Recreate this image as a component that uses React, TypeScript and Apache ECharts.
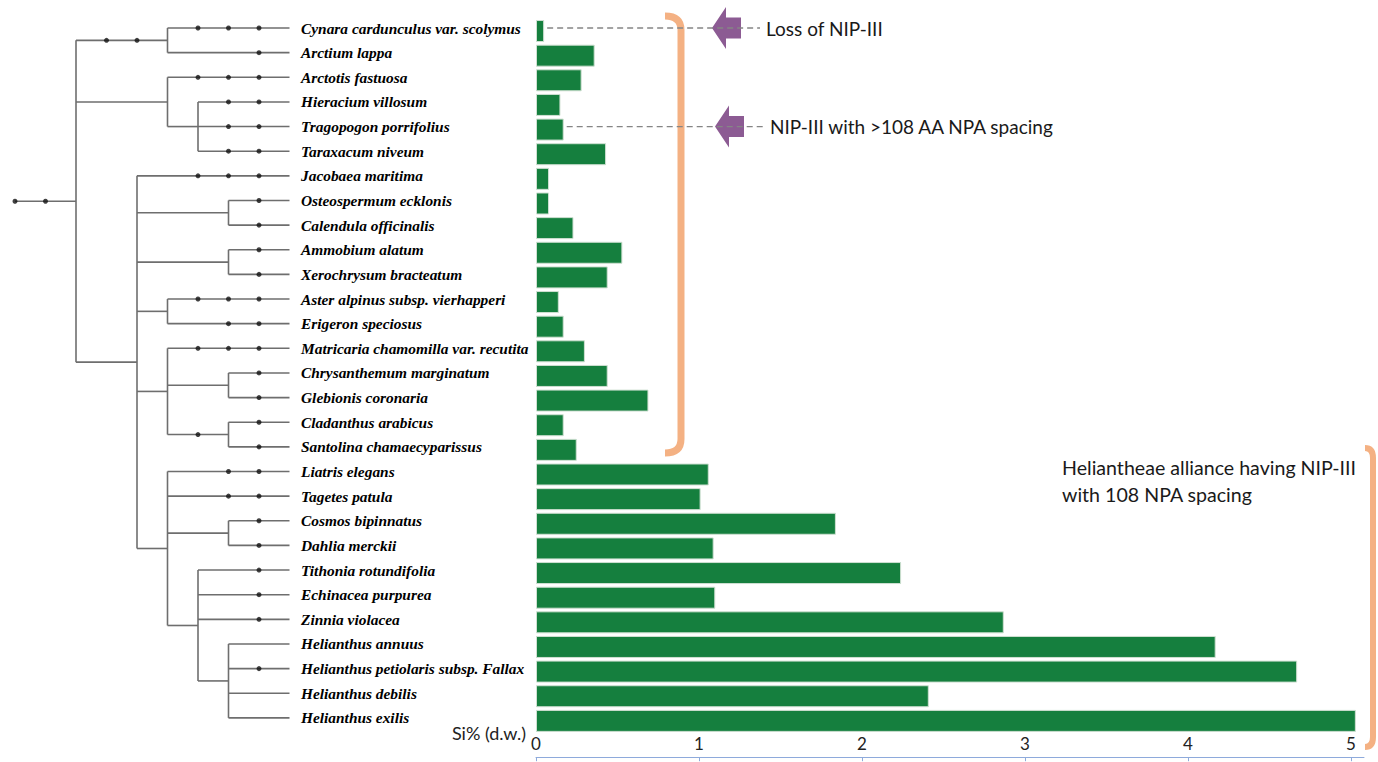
import React, { useEffect, useRef } from "react";
import * as echarts from "echarts";

const species = [
  "Cynara cardunculus var. scolymus",
  "Arctium lappa",
  "Arctotis fastuosa",
  "Hieracium villosum",
  "Tragopogon porrifolius",
  "Taraxacum niveum",
  "Jacobaea maritima",
  "Osteospermum ecklonis",
  "Calendula officinalis",
  "Ammobium alatum",
  "Xerochrysum bracteatum",
  "Aster alpinus subsp. vierhapperi",
  "Erigeron speciosus",
  "Matricaria chamomilla var. recutita",
  "Chrysanthemum marginatum",
  "Glebionis coronaria",
  "Cladanthus arabicus",
  "Santolina chamaecyparissus",
  "Liatris elegans",
  "Tagetes patula",
  "Cosmos bipinnatus",
  "Dahlia merckii",
  "Tithonia rotundifolia",
  "Echinacea purpurea",
  "Zinnia violacea",
  "Helianthus annuus",
  "Helianthus petiolaris subsp. Fallax",
  "Helianthus debilis",
  "Helianthus exilis",
];

const siPercent = [
  0.05, 0.36, 0.28, 0.15, 0.17, 0.43, 0.08, 0.08, 0.23, 0.53, 0.44, 0.14, 0.17,
  0.3, 0.44, 0.69, 0.17, 0.25, 1.06, 1.01, 1.84, 1.09, 2.24, 1.1, 2.87, 4.17,
  4.67, 2.41, 5.03,
];

const xTicks = [0, 1, 2, 3, 4, 5];

const annotations = [
  { leaf: 0, text: "Loss of NIP-III" },
  { leaf: 4, text: "NIP-III with >108 AA NPA spacing" },
];
const groupNote = "Heliantheae alliance having NIP-III\nwith 108 NPA spacing";
const axisTitle = "Si% (d.w.)";

// Tree topology: columns 0..9 (9 = tips); dots = columns of the node markers on the incoming branch
type TNode = { col: number; dots: number[]; leaf?: number; children?: TNode[] };
const Lf = (leaf: number, dots: number[]): TNode => ({ col: 9, dots, leaf });
const Nd = (col: number, dots: number[], children: TNode[]): TNode => ({ col, dots, children });

const tree: TNode = Nd(2, [0, 1], [
  Nd(5, [3, 4], [Lf(0, [6, 7, 8]), Lf(1, [8])]),
  Nd(5, [], [Lf(2, [6, 7, 8]), Nd(6, [], [Lf(3, [7, 8]), Lf(4, [7, 8]), Lf(5, [7, 8])])]),
  Nd(4, [], [
    Lf(6, [6, 7, 8]),
    Nd(7, [], [Lf(7, [8]), Lf(8, [8])]),
    Nd(7, [], [Lf(9, [8]), Lf(10, [8])]),
    Nd(5, [], [Lf(11, [6, 7, 8]), Lf(12, [7, 8])]),
    Nd(5, [], [
      Lf(13, [6, 7, 8]),
      Nd(7, [], [Lf(14, [8]), Lf(15, [8])]),
      Nd(7, [6], [Lf(16, [8]), Lf(17, [8])]),
    ]),
    Nd(5, [], [
      Lf(18, [7, 8]),
      Lf(19, [7, 8]),
      Nd(7, [], [Lf(20, [8]), Lf(21, [8])]),
      Nd(6, [], [
        Lf(22, [8]),
        Lf(23, [8]),
        Lf(24, [8]),
        Nd(7, [], [Lf(25, []), Lf(26, [8]), Lf(27, []), Lf(28, [])]),
      ]),
    ]),
  ]),
]);

function layoutTree(node: TNode, parentCol: number, segs: number[][], dots: number[][]): number {
  let y: number;
  if (node.leaf !== undefined) {
    y = node.leaf;
  } else {
    const ys = node.children!.map((c) => layoutTree(c, node.col, segs, dots));
    y = (ys[0] + ys[ys.length - 1]) / 2;
    segs.push([node.col, ys[0], node.col, ys[ys.length - 1]]);
  }
  segs.push([parentCol, y, node.col, y]);
  node.dots.forEach((c) => dots.push([c, y]));
  return y;
}

export default function App() {
  const ref = useRef<HTMLDivElement>(null);
  useEffect(() => {
    if (!ref.current) return;
    const chart = echarts.init(ref.current, null, { renderer: "svg" });
    const segs: number[][] = [];
    const dots: number[][] = [];
    layoutTree(tree, 0, segs, dots);

    echarts.graphic.registerShape(
      "bracketA",
      echarts.graphic.extendPath("M0,0 Q16,0 16,14 L16,423 Q16,437 0,437", {})
    );
    echarts.graphic.registerShape(
      "bracketB",
      echarts.graphic.extendPath("M0,0 Q8,0 8,10 L8,289 Q8,299 0,299", {})
    );

    const option: any = {
      animation: false,
      grid: [
        { left: 15, top: 15.7, width: 274.5, height: 714.5 },
        { left: 536, top: 18.7, width: 828, height: 714.5 },
      ],
      xAxis: [
        { type: "value", gridIndex: 0, min: 0, max: 9, show: false },
        {
          type: "value",
          gridIndex: 1,
          min: 0,
          max: 5.08,
          interval: 1,
          offset: 24,
          splitLine: { show: false },
          axisLine: { show: true, lineStyle: { color: "#8eaadb", width: 1 } },
          axisTick: { show: true, length: 4, customValues: xTicks, lineStyle: { color: "#8eaadb" } },
          axisLabel: {
            inside: true,
            margin: 5,
            customValues: xTicks,
            fontFamily: "Lato",
            fontSize: 17,
            color: "#222",
          },
        },
      ],
      yAxis: [
        { type: "value", gridIndex: 0, min: -0.5, max: 28.5, inverse: true, show: false },
        {
          type: "category",
          gridIndex: 0,
          data: species,
          inverse: true,
          position: "right",
          axisLine: { show: false },
          axisTick: { show: false },
          axisLabel: {
            align: "left",
            margin: 11.5,
            fontFamily: "Liberation Serif",
            fontStyle: "italic",
            fontWeight: "bold",
            fontSize: 15.4,
            color: "#000",
            interval: 0,
          },
        },
        { type: "category", gridIndex: 1, data: species, inverse: true, show: false },
      ],
      series: [
        {
          type: "custom",
          xAxisIndex: 0,
          yAxisIndex: 0,
          data: segs,
          encode: { x: [0, 2], y: [1, 3] },
          renderItem: (params: any, api: any) => {
            const p1 = api.coord([api.value(0), api.value(1)]);
            const p2 = api.coord([api.value(2), api.value(3)]);
            return {
              type: "line",
              shape: { x1: p1[0], y1: p1[1], x2: p2[0], y2: p2[1] },
              style: { stroke: "#6e6e6e", lineWidth: 1.6 },
            };
          },
          silent: true,
        },
        {
          type: "scatter",
          xAxisIndex: 0,
          yAxisIndex: 0,
          data: dots,
          symbolSize: 5,
          itemStyle: { color: "#111" },
          silent: true,
        },
        {
          type: "bar",
          xAxisIndex: 1,
          yAxisIndex: 2,
          data: siPercent,
          barWidth: 22,
          itemStyle: { color: "#157f3e", borderColor: "#cfe0d2", borderWidth: 1 },
        },
      ],
    };
    chart.setOption(option);

    const graphics: any[] = [];
    const axisPix = chart.convertToPixel({ xAxisIndex: 1, yAxisIndex: 2 }, [0, 28]) as number[];
    annotations.forEach((a, i) => {
      const y = (chart.convertToPixel({ xAxisIndex: 0, yAxisIndex: 0 }, [9, a.leaf]) as number[])[1];
      const barEnd = (chart.convertToPixel({ xAxisIndex: 1, yAxisIndex: 2 }, [siPercent[a.leaf], a.leaf]) as number[])[0];
      const tx = i === 0 ? 712 : 715;
      const lineEnd = i === 0 ? 760 : 765;
      const textX = i === 0 ? 766 : 770;
      graphics.push({
        type: "polygon",
        shape: {
          points: [
            [tx, y],
            [tx + 14, y - 21],
            [tx + 14, y - 10.5],
            [tx + 29, y - 10.5],
            [tx + 29, y + 10.5],
            [tx + 14, y + 10.5],
            [tx + 14, y + 21],
          ],
        },
        style: { fill: "#8c5b93" },
        z: 10,
      });
      graphics.push({
        type: "line",
        shape: { x1: barEnd + 3, y1: y, x2: lineEnd, y2: y },
        style: { stroke: "#858585", lineWidth: 1.3, lineDash: [6, 4] },
        z: 11,
      });
      graphics.push({
        type: "text",
        x: textX,
        y,
        style: {
          text: a.text,
          fontFamily: "Lato",
          fontSize: 19,
          fill: "#1a1a1a",
          verticalAlign: "middle",
        },
        z: 12,
      });
    });
    graphics.push({
      type: "bracketA",
      x: 665,
      y: 16,
      style: { fill: "none", stroke: "#f4b183", lineWidth: 7 },
      z: 9,
    });
    graphics.push({
      type: "bracketB",
      x: 1365,
      y: 448,
      style: { fill: "none", stroke: "#f4b183", lineWidth: 6 },
      z: 9,
    });
    graphics.push({
      type: "text",
      x: 1062,
      y: 481,
      style: {
        text: groupNote,
        fontFamily: "Lato",
        fontSize: 19.6,
        lineHeight: 27,
        fill: "#1a1a1a",
        verticalAlign: "middle",
      },
    });
    graphics.push({
      type: "text",
      x: 526,
      y: axisPix[1] + 24 - 12,
      style: {
        text: axisTitle,
        fontFamily: "Lato",
        fontSize: 18,
        fill: "#222",
        align: "right",
        verticalAlign: "middle",
      },
    });
    chart.setOption({ graphic: graphics });

    return () => chart.dispose();
  }, []);
  return (
    <div
      ref={ref}
      style={{ position: "absolute", left: 0, top: 0, width: 1378, height: 762 }}
    />
  );
}
